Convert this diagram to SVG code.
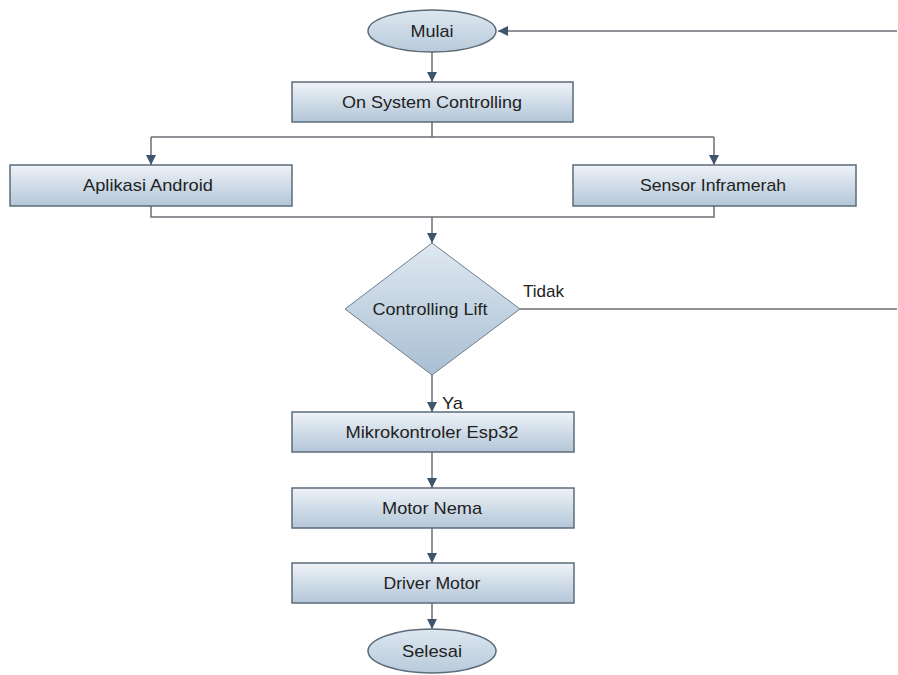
<svg xmlns="http://www.w3.org/2000/svg" width="898" height="675" viewBox="0 0 898 675">
<defs>
<linearGradient id="gBox" x1="0" y1="0" x2="0" y2="1">
<stop offset="0" stop-color="#eef3f8"/>
<stop offset="1" stop-color="#b3c6d8"/>
</linearGradient>
<linearGradient id="gEll" x1="0" y1="0" x2="0" y2="1">
<stop offset="0" stop-color="#dde7f0"/>
<stop offset="1" stop-color="#b8cadb"/>
</linearGradient>
<linearGradient id="gDia" x1="0" y1="0" x2="0" y2="1">
<stop offset="0" stop-color="#dfe8f1"/>
<stop offset="1" stop-color="#a9bfd3"/>
</linearGradient>
<marker id="arr" markerWidth="10" markerHeight="16" refX="10" refY="8" orient="auto" markerUnits="userSpaceOnUse">
<path d="M0,3 L10,8 L0,13 Z" fill="#3e566b"/>
</marker>
</defs>
<style>
.box{fill:url(#gBox);stroke:#5b6b79;stroke-width:1.5}
.ell{fill:url(#gEll);stroke:#5b6b79;stroke-width:1.5}
.dia{fill:url(#gDia);stroke:#6d7d8b;stroke-width:1}
.t{font-family:"Liberation Sans",Arial,sans-serif;font-size:17px;fill:#222;text-anchor:middle;dominant-baseline:central}
.lbl{font-family:"Liberation Sans",Arial,sans-serif;font-size:17px;fill:#222}
.c{fill:none;stroke:#6a6f74;stroke-width:1.5}
.ca{fill:none;stroke:#6a6f74;stroke-width:1.5;marker-end:url(#arr)}
</style>
<rect width="898" height="675" fill="#fff"/>
<g id="connectors">
<path class="ca" d="M897,31 L498,31"/>
<path class="ca" d="M432,52 L432,82"/>
<path class="c" d="M432,122 L432,137 M151,137 L714,137"/>
<path class="ca" d="M151,137 L151,165"/>
<path class="ca" d="M714,137 L714,165"/>
<path class="c" d="M151,206 L151,217 L714,217 L714,206"/>
<path class="ca" d="M432,217 L432,243"/>
<path class="c" d="M520,309 L897,309"/>
<path class="ca" d="M432,375 L432,412"/>
<path class="ca" d="M432,452 L432,488"/>
<path class="ca" d="M432,528 L432,563"/>
<path class="ca" d="M432,603 L432,629"/>
<text class="lbl" x="523" y="297" textLength="41" lengthAdjust="spacingAndGlyphs">Tidak</text>
<text class="lbl" x="442" y="409" textLength="21" lengthAdjust="spacingAndGlyphs">Ya</text>
</g>
<g id="mulai">
<ellipse class="ell" cx="432" cy="31" rx="64" ry="21"/>
<text class="t" x="432" y="31" textLength="43" lengthAdjust="spacingAndGlyphs">Mulai</text>
</g>
<g id="on-system">
<rect class="box" x="292" y="82" width="281" height="40"/>
<text class="t" x="432" y="102" textLength="180" lengthAdjust="spacingAndGlyphs">On System Controlling</text>
</g>
<g id="aplikasi">
<rect class="box" x="10" y="165" width="282" height="41"/>
<text class="t" x="148" y="185" textLength="130" lengthAdjust="spacingAndGlyphs">Aplikasi Android</text>
</g>
<g id="sensor">
<rect class="box" x="573" y="165" width="283" height="41"/>
<text class="t" x="713" y="185" textLength="146" lengthAdjust="spacingAndGlyphs">Sensor Inframerah</text>
</g>
<g id="controlling-lift">
<polygon class="dia" points="432,243 520,309 432,375 345,309"/>
<text class="t" x="430" y="309" textLength="115" lengthAdjust="spacingAndGlyphs">Controlling Lift</text>
</g>
<g id="mikrokontroler">
<rect class="box" x="292" y="412" width="282" height="40"/>
<text class="t" x="432" y="432" textLength="173" lengthAdjust="spacingAndGlyphs">Mikrokontroler Esp32</text>
</g>
<g id="motor-nema">
<rect class="box" x="292" y="488" width="282" height="40"/>
<text class="t" x="432" y="508" textLength="100" lengthAdjust="spacingAndGlyphs">Motor Nema</text>
</g>
<g id="driver-motor">
<rect class="box" x="292" y="563" width="282" height="40"/>
<text class="t" x="432" y="583" textLength="97" lengthAdjust="spacingAndGlyphs">Driver Motor</text>
</g>
<g id="selesai">
<ellipse class="ell" cx="432" cy="651" rx="64" ry="22"/>
<text class="t" x="432" y="651" textLength="60" lengthAdjust="spacingAndGlyphs">Selesai</text>
</g>
</svg>
